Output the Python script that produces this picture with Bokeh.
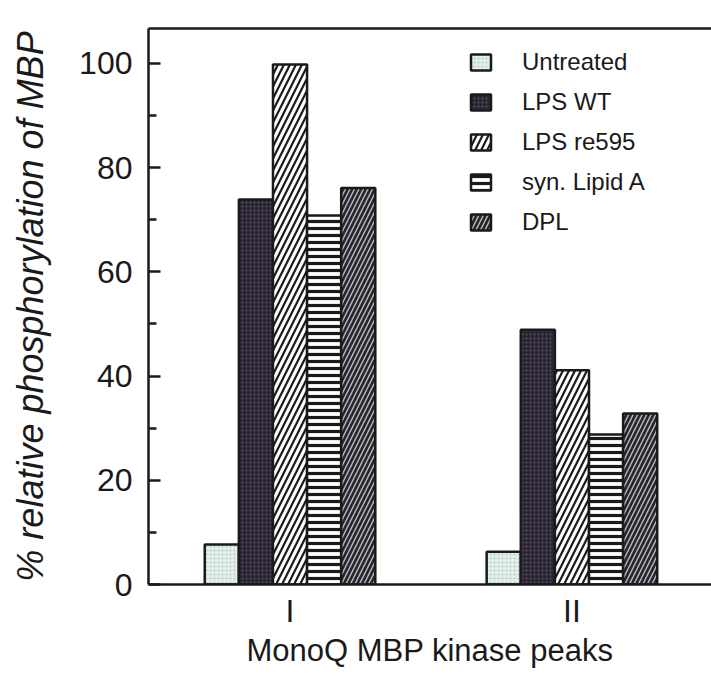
from bokeh.plotting import figure
from bokeh.models import (ColumnDataSource, FixedTicker, LinearAxis, Legend, LegendItem, Range1d)
from bokeh.transform import dodge
from bokeh.embed import file_html
from bokeh.resources import INLINE

# ---- data ----
groups = ["I", "II"]
group_pos = [1, 2]
series = ["Untreated", "LPS WT", "LPS re595", "syn. Lipid A", "DPL"]
untreated = [7.7, 6.3]
lps_wt = [73.9, 48.9]
lps_re595 = [99.8, 41.1]
syn_lipid_a = [70.8, 28.8]
dpl = [76.1, 32.8]
y_major = [0, 20, 40, 60, 80, 100]
y_minor = [10, 30, 50, 70, 90]

INK = "#1a1a1a"
FONT = "Liberation Sans"

src = ColumnDataSource(dict(x=group_pos, untreated=untreated, lps_wt=lps_wt,
                            lps_re595=lps_re595, syn_lipid_a=syn_lipid_a, dpl=dpl))

p = figure(width=711, height=677, output_backend="svg", toolbar_location=None,
           x_range=Range1d(0.498, 2.495), y_range=Range1d(0, 106.7),
           min_border_left=148, min_border_right=0, min_border_top=28, min_border_bottom=93)
p.background_fill_color = "white"
p.border_fill_color = "white"
p.outline_line_color = None
p.xgrid.visible = False
p.ygrid.visible = False

W = 0.121
styles = [
    dict(fill_color="#e4eee6", hatch_pattern=".", hatch_color="#a9cdd2", hatch_scale=4, hatch_weight=1.5),
    dict(fill_color="#2b2531", hatch_pattern=".", hatch_color="#55506c", hatch_scale=4, hatch_weight=1.5),
    dict(fill_color="white", hatch_pattern="/", hatch_color=INK, hatch_scale=12, hatch_weight=2.2),
    dict(fill_color="white", hatch_pattern="-", hatch_color=INK, hatch_scale=7, hatch_weight=3.2),
    dict(fill_color="#252429", hatch_pattern="/", hatch_color="#b4b4bd", hatch_scale=9, hatch_weight=1.5),
]
cols = ["untreated", "lps_wt", "lps_re595", "syn_lipid_a", "dpl"]
renderers = []
for i, (c, st) in enumerate(zip(cols, styles)):
    r = p.vbar(x=dodge("x", (i - 2) * W, range=p.x_range), top=c, width=W, bottom=0,
               source=src, line_color=INK, line_width=2.5, **st)
    renderers.append(r)

# y axis
ya = p.yaxis[0]
ya.ticker = FixedTicker(ticks=y_major, minor_ticks=y_minor)
ya.axis_line_width = 2.5
ya.axis_line_color = INK
ya.major_tick_in = 12
ya.major_tick_out = 0
ya.minor_tick_in = 8
ya.minor_tick_out = 0
ya.major_tick_line_width = 2.5
ya.minor_tick_line_width = 2.5
ya.major_tick_line_color = INK
ya.minor_tick_line_color = INK
ya.major_label_text_font = FONT
ya.major_label_text_font_size = "32px"
ya.major_label_text_color = INK
ya.major_label_standoff = 16
ya.axis_label = "% relative phosphorylation of MBP"
ya.axis_label_text_font = FONT
ya.axis_label_text_font_size = "36px"
ya.axis_label_text_font_style = "italic"
ya.axis_label_text_color = INK
ya.axis_label_standoff = 25

# x axis
xa = p.xaxis[0]
xa.ticker = FixedTicker(ticks=group_pos)
xa.major_label_overrides = {group_pos[i]: groups[i] for i in range(len(groups))}
xa.axis_line_width = 2.5
xa.axis_line_color = INK
xa.major_tick_line_color = None
xa.minor_tick_line_color = None
xa.major_label_text_font = FONT
xa.major_label_text_font_size = "32px"
xa.major_label_text_color = INK
xa.major_label_standoff = 2
xa.axis_label = "MonoQ MBP kinase peaks"
xa.axis_label_text_font = FONT
xa.axis_label_text_font_size = "31px"
xa.axis_label_text_font_style = "normal"
xa.axis_label_text_color = INK
xa.axis_label_standoff = 1

# top border line
top = LinearAxis(ticker=FixedTicker(ticks=[]), axis_line_width=2.5, axis_line_color=INK,
                 major_tick_line_color=None, minor_tick_line_color=None,
                 major_label_text_font_size="0px", major_tick_out=0, minor_tick_out=0,
                 major_label_standoff=0)
p.add_layout(top, "above")

legend = Legend(items=[LegendItem(label=s, renderers=[r]) for s, r in zip(series, renderers)],
                location=(320, 348), orientation="vertical")
legend.label_text_font = FONT
legend.label_text_font_size = "24px"
legend.label_text_color = INK
legend.glyph_width = 25
legend.glyph_height = 20
legend.label_height = 20
legend.label_standoff = 29
legend.spacing = 12
legend.padding = 0
legend.margin = 0
legend.border_line_color = None
legend.background_fill_alpha = 0
p.add_layout(legend)

open("out.html", "w").write(file_html(p, INLINE))
